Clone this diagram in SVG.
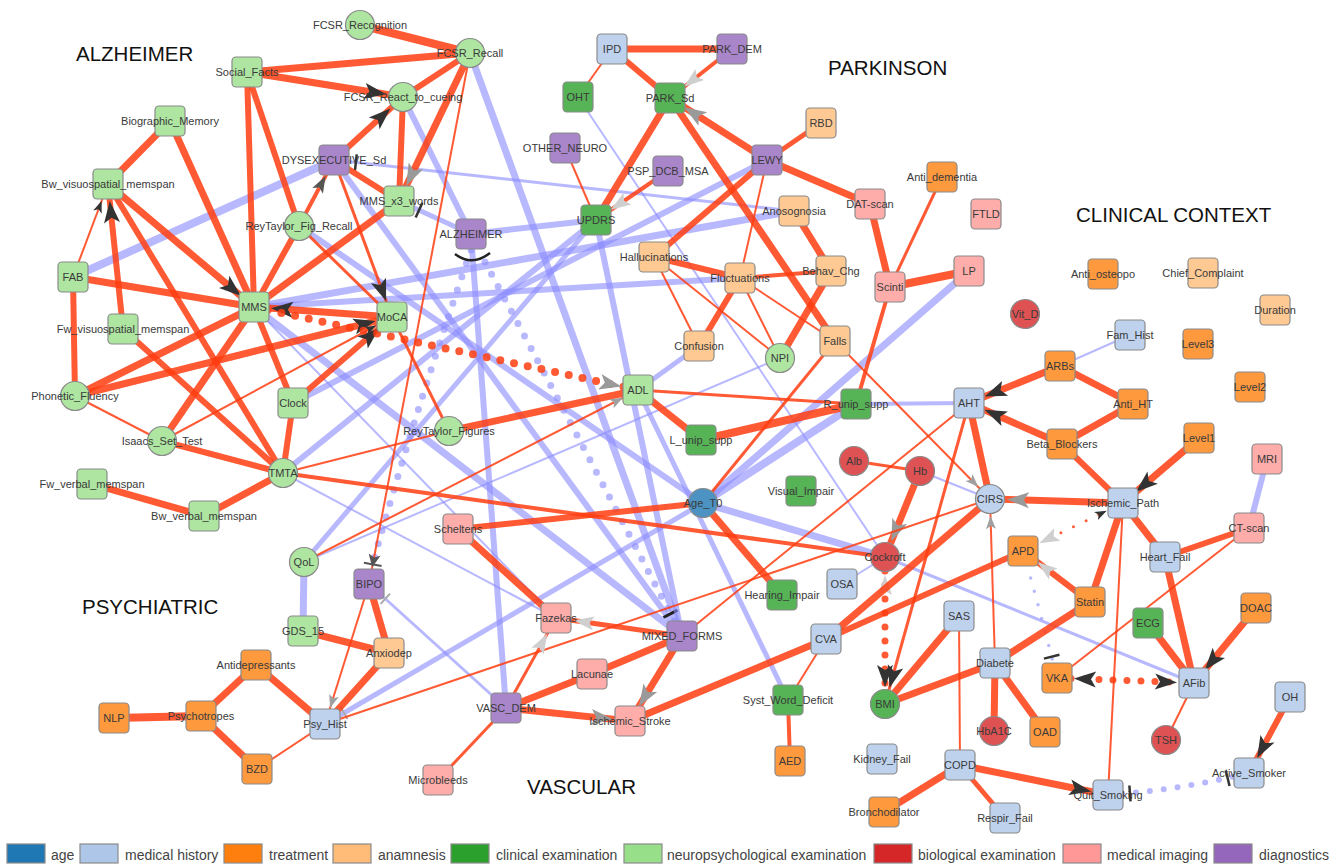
<svg xmlns="http://www.w3.org/2000/svg" width="1344" height="867" viewBox="0 0 1344 867">
<style>
.r{stroke:#ff3d10;stroke-opacity:.85;fill:none}
.b{stroke:#8c8cff;stroke-opacity:.62;fill:none}
.d{stroke-dasharray:0 14;stroke-linecap:round}
.node rect,.node circle{stroke:#8a8a8a;stroke-width:1.2}
.node text{font-family:"Liberation Sans",Arial,sans-serif;font-size:11px;fill:#3a3a3a;text-anchor:middle}
.age{fill:#4c92c3}.mh{fill:#bed2ed}.tr{fill:#ff993e}.an{fill:#ffc993}.ce{fill:#56b356}.np{fill:#ade5a1}.bi{fill:#de5253}.mi{fill:#ffadab}.dg{fill:#a985ca}
.title{font-family:"Liberation Sans",Arial,sans-serif;font-size:20.5px;fill:#111}
.leg rect{stroke:#8a8a8a;stroke-width:1.2}
.leg text{font-family:"Liberation Sans",Arial,sans-serif;font-size:14px;fill:#444}
</style>
<defs>
<marker id="dk" markerUnits="userSpaceOnUse" orient="auto-start-reverse" refX="39" refY="8" markerWidth="24" markerHeight="16" overflow="visible"><path d="M0,0L22,8L0,16L5,8Z" fill="#333"/></marker>
<marker id="gr" markerUnits="userSpaceOnUse" orient="auto-start-reverse" refX="39" refY="8" markerWidth="24" markerHeight="16" overflow="visible"><path d="M0,0L22,8L0,16L5,8Z" fill="#9a9a9a"/></marker>
<marker id="gr2" markerUnits="userSpaceOnUse" orient="auto-start-reverse" refX="35" refY="6" markerWidth="18" markerHeight="12" overflow="visible"><path d="M0,0L17,6L0,12L4,6Z" fill="#555"/></marker>
<marker id="lt" markerUnits="userSpaceOnUse" orient="auto-start-reverse" refX="38" refY="7" markerWidth="22" markerHeight="14" overflow="visible"><path d="M0,0L20,7L0,14L4,7Z" fill="#cfcfcf"/></marker>
<marker id="dksm" markerUnits="userSpaceOnUse" orient="auto-start-reverse" refX="30" refY="4.5" markerWidth="13" markerHeight="9" overflow="visible"><path d="M0,0L12,4.5L0,9L3,4.5Z" fill="#333"/></marker>
<marker id="grsm" markerUnits="userSpaceOnUse" orient="auto-start-reverse" refX="30" refY="5" markerWidth="14" markerHeight="10" overflow="visible"><path d="M0,0L13,5L0,10L3,5Z" fill="#a0a0a0"/></marker>
<marker id="ab" markerUnits="userSpaceOnUse" orient="auto-start-reverse" refX="30" refY="6" markerWidth="14" markerHeight="12" overflow="visible"><path d="M0,0L13,6L0,12L3,6Z" fill="#555"/><path d="M10,-3L10,15" stroke="#555" stroke-width="2"/></marker>
<marker id="tdk" markerUnits="userSpaceOnUse" orient="auto-start-reverse" refX="22" refY="0" markerWidth="4" markerHeight="16" overflow="visible"><path d="M0,-8L0,8" stroke="#333" stroke-width="2.5"/></marker>
<marker id="tdk2" markerUnits="userSpaceOnUse" orient="auto-start-reverse" refX="25" refY="0" markerWidth="4" markerHeight="16" overflow="visible"><path d="M0,-8L0,8" stroke="#222" stroke-width="3"/></marker>
<marker id="tgr" markerUnits="userSpaceOnUse" orient="auto-start-reverse" refX="22" refY="0" markerWidth="4" markerHeight="16" overflow="visible"><path d="M0,-7L0,7" stroke="#aaa" stroke-width="2"/></marker>
</defs>
<rect width="1344" height="867" fill="#fff"/>
<g id="edges">
<!-- blue edges -->
<path class="b" stroke-width="8" d="M73,277L334,160"/>
<path class="b" stroke-width="3" d="M334,160L794,211" marker-start="url(#tdk)"/>
<path class="b" stroke-width="6" d="M334,160L682,636"/>
<path class="b" stroke-width="7" d="M470,53L682,636"/>
<path class="b" stroke-width="6" d="M403,97L471,234"/>
<path class="b" stroke-width="5" d="M399,201L471,234" marker-start="url(#tdk)"/>
<path class="b" stroke-width="6" d="M471,234L596,220"/>
<path class="b" stroke-width="6" d="M471,234L506,708"/>
<path class="b d" stroke-width="7" d="M471,250Q415,412 372,566"/>
<path class="b d" stroke-width="7" d="M485,262Q575,430 682,636" marker-end="url(#tdk2)"/>
<path class="b" stroke-width="7" d="M254,307L794,211"/>
<path class="b" stroke-width="6" d="M254,307L740,278"/>
<path class="b" stroke-width="7" d="M254,307L682,636"/>
<path class="b" stroke-width="2" d="M254,307L556,618"/>
<path class="b" stroke-width="2" d="M283,473L556,618"/>
<path class="b" stroke-width="6" d="M767,160L293,403"/>
<path class="b" stroke-width="5" d="M596,220L304,562"/>
<path class="b" stroke-width="6" d="M299,226L703,503"/>
<path class="b" stroke-width="6" d="M283,473L596,220"/>
<path class="b" stroke-width="5" d="M325,724L703,503" marker-start="url(#tgr)"/>
<path class="b" stroke-width="3" d="M369,584L506,708" marker-start="url(#tgr)"/>
<path class="b" stroke-width="7" d="M304,562L303,631"/>
<path class="b" stroke-width="5" d="M638,390L699,346"/>
<path class="b" stroke-width="2" d="M780,358L304,562"/>
<path class="b" stroke-width="5" d="M638,390L788,700"/>
<path class="b" stroke-width="2" d="M578,97L885,557"/>
<path class="b" stroke-width="8" d="M856,404L703,503"/>
<path class="b" stroke-width="7" d="M969,271L703,503"/>
<path class="b" stroke-width="4" d="M969,403L856,404"/>
<path class="b" stroke-width="7" d="M703,503L885,557"/>
<path class="b" stroke-width="2" d="M920,471L990,499"/>
<path class="b" stroke-width="2" d="M1130,335L1060,366"/>
<path class="b" stroke-width="6" d="M1267,459L1249,528"/>
<path class="b" stroke-width="3" d="M1194,683L885,557"/>
<path class="b" stroke-width="2" d="M842,584L885,557"/>
<path class="b" stroke-width="6" d="M596,220L682,636"/>
<path class="b d" stroke-width="3.5" stroke-dasharray="0 9" d="M1023,551Q1040,610 1057,678" marker-end="url(#tdk)"/>
<path class="b d" stroke-width="6" d="M1108,795Q1180,790 1249,773" marker-start="url(#tdk)" marker-end="url(#tdk)"/>
<!-- red edges -->
<path class="r" stroke-width="8" d="M360,25L470,53"/>
<path class="r" stroke-width="7" d="M247,72L470,53"/>
<path class="r" stroke-width="7" d="M247,72L403,97" marker-end="url(#dk)"/>
<path class="r" stroke-width="6" d="M470,53L403,97"/>
<path class="r" stroke-width="7" d="M470,53L399,201" marker-end="url(#gr)"/>
<path class="r" stroke-width="6" d="M403,97L399,201"/>
<path class="r" stroke-width="2" d="M470,53L369,584" marker-end="url(#ab)"/>
<path class="r" stroke-width="6" d="M247,72L254,307"/>
<path class="r" stroke-width="6" d="M247,72L299,226"/>
<path class="r" stroke-width="7" d="M170,121L108,184"/>
<path class="r" stroke-width="7" d="M170,121L254,307"/>
<path class="r" stroke-width="6" d="M123,329L108,184" marker-end="url(#dk)"/>
<path class="r" stroke-width="2" d="M73,277L108,184" marker-end="url(#dksm)"/>
<path class="r" stroke-width="7" d="M108,184L254,307" marker-end="url(#dk)"/>
<path class="r" stroke-width="6" d="M108,184L283,473"/>
<path class="r" stroke-width="7" d="M73,277L254,307"/>
<path class="r" stroke-width="6" d="M73,277L75,396"/>
<path class="r" stroke-width="6" d="M123,329L283,473"/>
<path class="r" stroke-width="7" d="M75,396L254,307"/>
<path class="r" stroke-width="7" d="M75,396L392,317" marker-end="url(#dk)"/>
<path class="r" stroke-width="2" d="M75,396L162,441"/>
<path class="r" stroke-width="7" d="M162,441L254,307"/>
<path class="r" stroke-width="2" d="M162,441L392,317" marker-end="url(#dksm)"/>
<path class="r" stroke-width="6" d="M162,441L283,473"/>
<path class="r" stroke-width="6" d="M254,307L293,403"/>
<path class="r" stroke-width="6" d="M293,403L283,473"/>
<path class="r" stroke-width="6" d="M293,403L392,317" marker-end="url(#dk)"/>
<path class="r" stroke-width="7" d="M399,201L254,307"/>
<path class="r" stroke-width="6" d="M299,226L254,307"/>
<path class="r" stroke-width="4" d="M299,226L334,160" marker-end="url(#gr2)"/>
<path class="r" stroke-width="6" d="M334,160L403,97" marker-end="url(#dk)"/>
<path class="r" stroke-width="6" d="M334,160L399,201"/>
<path class="r" stroke-width="3" d="M334,160L392,317" marker-end="url(#dk)"/>
<path class="r" stroke-width="3" d="M299,226L392,317"/>
<path class="r" stroke-width="7" d="M392,317L254,307" marker-end="url(#dk)"/>
<path class="r d" stroke-width="8" stroke-dasharray="0 15.5" d="M254,307L638,390" marker-end="url(#gr)"/>
<path class="r" stroke-width="3" d="M392,317L449,431"/>
<path class="r" stroke-width="7" d="M449,431L638,390"/>
<path class="r" stroke-width="2" d="M283,473L449,431"/>
<path class="r" stroke-width="4" d="M283,473L885,557"/>
<path class="r" stroke-width="7" d="M204,516L283,473"/>
<path class="r" stroke-width="7" d="M92,484L204,516"/>
<path class="r" stroke-width="2" d="M304,562L638,390" marker-end="url(#grsm)"/>
<path class="r" stroke-width="3" d="M638,390L856,404"/>
<path class="r" stroke-width="7" d="M638,390L701,440"/>
<path class="r" stroke-width="8" d="M701,440L856,404"/>
<path class="r" stroke-width="6" d="M458,529L703,503"/>
<path class="r" stroke-width="7" d="M458,529L556,618"/>
<path class="r" stroke-width="7" d="M703,503L782,595"/>
<path class="r" stroke-width="3" d="M703,503L835,341"/>
<path class="r" stroke-width="4" d="M890,287L856,404"/>
<path class="r" stroke-width="8" d="M890,287L969,271"/>
<path class="r" stroke-width="3" d="M890,287L942,177"/>
<path class="r" stroke-width="7" d="M870,204L890,287"/>
<path class="r" stroke-width="7" d="M767,160L870,204"/>
<path class="r" stroke-width="5" d="M767,160L821,123"/>
<path class="r" stroke-width="7" d="M767,160L670,98" marker-end="url(#gr)"/>
<path class="r" stroke-width="6" d="M767,160L654,257"/>
<path class="r" stroke-width="2" d="M767,160L740,278"/>
<path class="r" stroke-width="7" d="M612,49L732,49"/>
<path class="r" stroke-width="2" d="M612,49L578,97"/>
<path class="r" stroke-width="6" d="M612,49L670,98"/>
<path class="r" stroke-width="4" d="M732,49L670,98" marker-end="url(#lt)"/>
<path class="r" stroke-width="7" d="M670,98L596,220"/>
<path class="r" stroke-width="7" d="M670,98L835,341"/>
<path class="r" stroke-width="2" d="M565,148L596,220"/>
<path class="r" stroke-width="4" d="M668,171L596,220" marker-end="url(#lt)"/>
<path class="r" stroke-width="7" d="M794,211L831,271"/>
<path class="r" stroke-width="6" d="M654,257L740,278"/>
<path class="r" stroke-width="4" d="M740,278L831,271"/>
<path class="r" stroke-width="2" d="M654,257L699,346"/>
<path class="r" stroke-width="2" d="M654,257L780,358"/>
<path class="r" stroke-width="2" d="M740,278L780,358"/>
<path class="r" stroke-width="2" d="M740,278L835,341"/>
<path class="r" stroke-width="6" d="M699,346L740,278"/>
<path class="r" stroke-width="7" d="M780,358L831,271"/>
<path class="r" stroke-width="2" d="M835,341L990,499" marker-end="url(#grsm)"/>
<path class="r" stroke-width="7" d="M920,471L885,557" marker-end="url(#gr)"/>
<path class="r" stroke-width="3" d="M854,461L920,471"/>
<path class="r d" stroke-width="7" stroke-dasharray="0 14" d="M885,557L885,704" marker-start="url(#lt)" marker-end="url(#dk)"/>
<path class="r" stroke-width="3" d="M969,403L885,704" marker-end="url(#dk)"/>
<path class="r" stroke-width="7" d="M969,403L990,499"/>
<path class="r" stroke-width="2" d="M969,403L682,636"/>
<path class="r" stroke-width="2" d="M325,724L990,499"/>
<path class="r" stroke-width="7" d="M990,499L826,639"/>
<path class="r" stroke-width="6" d="M1023,551L826,639"/>
<path class="r" stroke-width="7" d="M826,639L630,721"/>
<path class="r" stroke-width="2" d="M826,639L788,700"/>
<path class="r" stroke-width="4" d="M788,700L790,761"/>
<path class="r" stroke-width="2" d="M995,663L990,499" marker-end="url(#grsm)"/>
<path class="r" stroke-width="7" d="M1123,503L990,499" marker-end="url(#gr)"/>
<path class="r" stroke-width="7" d="M1062,444L969,403" marker-end="url(#dk)"/>
<path class="r" stroke-width="7" d="M1060,366L969,403" marker-end="url(#dk)"/>
<path class="r" stroke-width="7" d="M1060,366L1133,404"/>
<path class="r" stroke-width="7" d="M1133,404L1062,444"/>
<path class="r" stroke-width="6" d="M1062,444L1123,503"/>
<path class="r" stroke-width="7" d="M1199,438L1123,503" marker-end="url(#dk)"/>
<path class="r" stroke-width="7" d="M1123,503L1165,557"/>
<path class="r" stroke-width="7" d="M1123,503L1090,602"/>
<path class="r" stroke-width="2" d="M1123,503L1108,795"/>
<path class="r" stroke-width="7" d="M1165,557L1194,683"/>
<path class="r" stroke-width="6" d="M1249,528L1165,557"/>
<path class="r" stroke-width="2" d="M1249,528L1057,678"/>
<path class="r" stroke-width="7" d="M1148,623L1194,683"/>
<path class="r" stroke-width="7" d="M1256,608L1194,683" marker-end="url(#dk)"/>
<path class="r" stroke-width="2" d="M1194,683L1166,740"/>
<path class="r d" stroke-width="7" stroke-dasharray="0 15" d="M1057,678L1194,683" marker-start="url(#dk)" marker-end="url(#dk)"/>
<path class="r d" stroke-width="3" stroke-dasharray="0 7" d="M1023,551L1123,503" marker-start="url(#lt)" marker-end="url(#dksm)"/>
<path class="r" stroke-width="6" d="M1090,602L1023,551" marker-end="url(#lt)"/>
<path class="r" stroke-width="7" d="M995,663L1090,602"/>
<path class="r" stroke-width="7" d="M995,663L885,704"/>
<path class="r" stroke-width="7" d="M995,663L994,731"/>
<path class="r" stroke-width="7" d="M995,663L1045,732"/>
<path class="r" stroke-width="7" d="M959,616L885,704"/>
<path class="r" stroke-width="2" d="M959,616L960,765"/>
<path class="r" stroke-width="7" d="M960,765L1108,795" marker-end="url(#dk)"/>
<path class="r" stroke-width="7" d="M960,765L884,812"/>
<path class="r" stroke-width="5" d="M960,765L1005,818"/>
<path class="r" stroke-width="6" d="M1290,697L1249,773" marker-end="url(#dk)"/>
<path class="r" stroke-width="5" d="M682,636L556,618" marker-end="url(#lt)"/>
<path class="r" stroke-width="7" d="M682,636L592,674"/>
<path class="r" stroke-width="7" d="M592,674L506,708"/>
<path class="r" stroke-width="7" d="M682,636L630,721" marker-end="url(#gr)"/>
<path class="r" stroke-width="7" d="M506,708L630,721" marker-end="url(#gr)"/>
<path class="r" stroke-width="3" d="M506,708L556,618" marker-end="url(#lt)"/>
<path class="r" stroke-width="3" d="M506,708L438,780"/>
<path class="r" stroke-width="7" d="M369,584L389,653"/>
<path class="r" stroke-width="7" d="M303,631L389,653"/>
<path class="r" stroke-width="2" d="M369,584L325,724" marker-end="url(#grsm)"/>
<path class="r" stroke-width="7" d="M389,653L325,724"/>
<path class="r" stroke-width="2" d="M325,724L257,769"/>
<path class="r" stroke-width="7" d="M256,665L325,724"/>
<path class="r" stroke-width="7" d="M201,716L256,665"/>
<path class="r" stroke-width="7" d="M201,716L257,769"/>
<path class="r" stroke-width="8" d="M114,718L201,716"/>
<path d="M455,254Q472,267 490,253" fill="none" stroke="#222" stroke-width="2.5"/>
</g>
<g id="titles">
<text class="title" x="76" y="61">ALZHEIMER</text>
<text class="title" x="828" y="75">PARKINSON</text>
<text class="title" x="1076" y="222">CLINICAL CONTEXT</text>
<text class="title" x="82" y="614">PSYCHIATRIC</text>
<text class="title" x="527" y="794">VASCULAR</text>
</g>
<g id="nodes">
<g id="n-FCSR_Recognition" class="node"><circle class="np" cx="360" cy="25" r="14.5"/><text x="360" y="29">FCSR_Recognition</text></g>
<g id="n-FCSR_Recall" class="node"><circle class="np" cx="470" cy="53" r="14.5"/><text x="470" y="57">FCSR_Recall</text></g>
<g id="n-Social_Facts" class="node"><rect class="np" x="232" y="57" width="30" height="30" rx="4"/><text x="247" y="76">Social_Facts</text></g>
<g id="n-FCSR_React_to_cueing" class="node"><circle class="np" cx="403" cy="97" r="14.5"/><text x="403" y="101">FCSR_React_to_cueing</text></g>
<g id="n-Biographic_Memory" class="node"><rect class="np" x="155" y="106" width="30" height="30" rx="4"/><text x="170" y="125">Biographic_Memory</text></g>
<g id="n-DYSEXECUTIVE_Sd" class="node"><rect class="dg" x="319" y="145" width="30" height="30" rx="4"/><text x="334" y="164">DYSEXECUTIVE_Sd</text></g>
<g id="n-Bw_visuospatial_memspan" class="node"><rect class="np" x="93" y="169" width="30" height="30" rx="4"/><text x="108" y="188">Bw_visuospatial_memspan</text></g>
<g id="n-MMS_x3_words" class="node"><rect class="np" x="384" y="186" width="30" height="30" rx="4"/><text x="399" y="205">MMS_x3_words</text></g>
<g id="n-ReyTaylor_Fig_Recall" class="node"><circle class="np" cx="299" cy="226" r="14.5"/><text x="299" y="230">ReyTaylor_Fig_Recall</text></g>
<g id="n-ALZHEIMER" class="node"><rect class="dg" x="456" y="219" width="30" height="30" rx="4"/><text x="471" y="238">ALZHEIMER</text></g>
<g id="n-FAB" class="node"><rect class="np" x="58" y="262" width="30" height="30" rx="4"/><text x="73" y="281">FAB</text></g>
<g id="n-MMS" class="node"><rect class="np" x="239" y="292" width="30" height="30" rx="4"/><text x="254" y="311">MMS</text></g>
<g id="n-MoCA" class="node"><rect class="np" x="377" y="302" width="30" height="30" rx="4"/><text x="392" y="321">MoCA</text></g>
<g id="n-Fw_visuospatial_memspan" class="node"><rect class="np" x="108" y="314" width="30" height="30" rx="4"/><text x="123" y="333">Fw_visuospatial_memspan</text></g>
<g id="n-Phonetic_Fluency" class="node"><circle class="np" cx="75" cy="396" r="14.5"/><text x="75" y="400">Phonetic_Fluency</text></g>
<g id="n-Clock" class="node"><rect class="np" x="278" y="388" width="30" height="30" rx="4"/><text x="293" y="407">Clock</text></g>
<g id="n-Isaacs_Set_Test" class="node"><circle class="np" cx="162" cy="441" r="14.5"/><text x="162" y="445">Isaacs_Set_Test</text></g>
<g id="n-ReyTaylor_Figures" class="node"><circle class="np" cx="449" cy="431" r="14.5"/><text x="449" y="435">ReyTaylor_Figures</text></g>
<g id="n-TMTA" class="node"><circle class="np" cx="283" cy="473" r="14.5"/><text x="283" y="477">TMTA</text></g>
<g id="n-Fw_verbal_memspan" class="node"><rect class="np" x="77" y="469" width="30" height="30" rx="4"/><text x="92" y="488">Fw_verbal_memspan</text></g>
<g id="n-Bw_verbal_memspan" class="node"><rect class="np" x="189" y="501" width="30" height="30" rx="4"/><text x="204" y="520">Bw_verbal_memspan</text></g>
<g id="n-QoL" class="node"><circle class="np" cx="304" cy="562" r="14.5"/><text x="304" y="566">QoL</text></g>
<g id="n-BIPO" class="node"><rect class="dg" x="354" y="569" width="30" height="30" rx="4"/><text x="369" y="588">BIPO</text></g>
<g id="n-GDS_15" class="node"><rect class="np" x="288" y="616" width="30" height="30" rx="4"/><text x="303" y="635">GDS_15</text></g>
<g id="n-Anxiodep" class="node"><rect class="an" x="374" y="638" width="30" height="30" rx="4"/><text x="389" y="657">Anxiodep</text></g>
<g id="n-Antidepressants" class="node"><rect class="tr" x="241" y="650" width="30" height="30" rx="4"/><text x="256" y="669">Antidepressants</text></g>
<g id="n-NLP" class="node"><rect class="tr" x="99" y="703" width="30" height="30" rx="4"/><text x="114" y="722">NLP</text></g>
<g id="n-Psychotropes" class="node"><rect class="tr" x="186" y="701" width="30" height="30" rx="4"/><text x="201" y="720">Psychotropes</text></g>
<g id="n-Psy_Hist" class="node"><rect class="mh" x="310" y="709" width="30" height="30" rx="4"/><text x="325" y="728">Psy_Hist</text></g>
<g id="n-BZD" class="node"><rect class="tr" x="242" y="754" width="30" height="30" rx="4"/><text x="257" y="773">BZD</text></g>
<g id="n-Scheltens" class="node"><rect class="mi" x="443" y="514" width="30" height="30" rx="4"/><text x="458" y="533">Scheltens</text></g>
<g id="n-Fazekas" class="node"><rect class="mi" x="541" y="603" width="30" height="30" rx="4"/><text x="556" y="622">Fazekas</text></g>
<g id="n-MIXED_FORMS" class="node"><rect class="dg" x="667" y="621" width="30" height="30" rx="4"/><text x="682" y="640">MIXED_FORMS</text></g>
<g id="n-Lacunae" class="node"><rect class="mi" x="577" y="659" width="30" height="30" rx="4"/><text x="592" y="678">Lacunae</text></g>
<g id="n-VASC_DEM" class="node"><rect class="dg" x="491" y="693" width="30" height="30" rx="4"/><text x="506" y="712">VASC_DEM</text></g>
<g id="n-Ischemic_Stroke" class="node"><rect class="mi" x="615" y="706" width="30" height="30" rx="4"/><text x="630" y="725">Ischemic_Stroke</text></g>
<g id="n-Microbleeds" class="node"><rect class="mi" x="423" y="765" width="30" height="30" rx="4"/><text x="438" y="784">Microbleeds</text></g>
<g id="n-IPD" class="node"><rect class="mh" x="597" y="34" width="30" height="30" rx="4"/><text x="612" y="53">IPD</text></g>
<g id="n-PARK_DEM" class="node"><rect class="dg" x="717" y="34" width="30" height="30" rx="4"/><text x="732" y="53">PARK_DEM</text></g>
<g id="n-OHT" class="node"><rect class="ce" x="563" y="82" width="30" height="30" rx="4"/><text x="578" y="101">OHT</text></g>
<g id="n-PARK_Sd" class="node"><rect class="ce" x="655" y="83" width="30" height="30" rx="4"/><text x="670" y="102">PARK_Sd</text></g>
<g id="n-RBD" class="node"><rect class="an" x="806" y="108" width="30" height="30" rx="4"/><text x="821" y="127">RBD</text></g>
<g id="n-OTHER_NEURO" class="node"><rect class="dg" x="550" y="133" width="30" height="30" rx="4"/><text x="565" y="152">OTHER_NEURO</text></g>
<g id="n-PSP_DCB_MSA" class="node"><rect class="dg" x="653" y="156" width="30" height="30" rx="4"/><text x="668" y="175">PSP_DCB_MSA</text></g>
<g id="n-LEWY" class="node"><rect class="dg" x="752" y="145" width="30" height="30" rx="4"/><text x="767" y="164">LEWY</text></g>
<g id="n-UPDRS" class="node"><rect class="ce" x="581" y="205" width="30" height="30" rx="4"/><text x="596" y="224">UPDRS</text></g>
<g id="n-DAT-scan" class="node"><rect class="mi" x="855" y="189" width="30" height="30" rx="4"/><text x="870" y="208">DAT-scan</text></g>
<g id="n-Anosognosia" class="node"><rect class="an" x="779" y="196" width="30" height="30" rx="4"/><text x="794" y="215">Anosognosia</text></g>
<g id="n-Hallucinations" class="node"><rect class="an" x="639" y="242" width="30" height="30" rx="4"/><text x="654" y="261">Hallucinations</text></g>
<g id="n-Fluctuations" class="node"><rect class="an" x="725" y="263" width="30" height="30" rx="4"/><text x="740" y="282">Fluctuations</text></g>
<g id="n-Behav_Chg" class="node"><rect class="an" x="816" y="256" width="30" height="30" rx="4"/><text x="831" y="275">Behav_Chg</text></g>
<g id="n-Scinti" class="node"><rect class="mi" x="875" y="272" width="30" height="30" rx="4"/><text x="890" y="291">Scinti</text></g>
<g id="n-Anti_dementia" class="node"><rect class="tr" x="927" y="162" width="30" height="30" rx="4"/><text x="942" y="181">Anti_dementia</text></g>
<g id="n-FTLD" class="node"><rect class="mi" x="971" y="199" width="30" height="30" rx="4"/><text x="986" y="218">FTLD</text></g>
<g id="n-LP" class="node"><rect class="mi" x="954" y="256" width="30" height="30" rx="4"/><text x="969" y="275">LP</text></g>
<g id="n-Confusion" class="node"><rect class="an" x="684" y="331" width="30" height="30" rx="4"/><text x="699" y="350">Confusion</text></g>
<g id="n-NPI" class="node"><circle class="np" cx="780" cy="358" r="14.5"/><text x="780" y="362">NPI</text></g>
<g id="n-Falls" class="node"><rect class="an" x="820" y="326" width="30" height="30" rx="4"/><text x="835" y="345">Falls</text></g>
<g id="n-ADL" class="node"><rect class="np" x="623" y="375" width="30" height="30" rx="4"/><text x="638" y="394">ADL</text></g>
<g id="n-R_unip_supp" class="node"><rect class="ce" x="841" y="389" width="30" height="30" rx="4"/><text x="856" y="408">R_unip_supp</text></g>
<g id="n-L_unip_supp" class="node"><rect class="ce" x="686" y="425" width="30" height="30" rx="4"/><text x="701" y="444">L_unip_supp</text></g>
<g id="n-Alb" class="node"><circle class="bi" cx="854" cy="461" r="14.5"/><text x="854" y="465">Alb</text></g>
<g id="n-Hb" class="node"><circle class="bi" cx="920" cy="471" r="14.5"/><text x="920" y="475">Hb</text></g>
<g id="n-Visual_Impair" class="node"><rect class="ce" x="786" y="476" width="30" height="30" rx="4"/><text x="801" y="495">Visual_Impair</text></g>
<g id="n-Age_T0" class="node"><circle class="age" cx="703" cy="503" r="14.5"/><text x="703" y="507">Age_T0</text></g>
<g id="n-Cockroft" class="node"><circle class="bi" cx="885" cy="557" r="14.5"/><text x="885" y="561">Cockroft</text></g>
<g id="n-OSA" class="node"><rect class="mh" x="827" y="569" width="30" height="30" rx="4"/><text x="842" y="588">OSA</text></g>
<g id="n-Hearing_Impair" class="node"><rect class="ce" x="767" y="580" width="30" height="30" rx="4"/><text x="782" y="599">Hearing_Impair</text></g>
<g id="n-CVA" class="node"><rect class="mh" x="811" y="624" width="30" height="30" rx="4"/><text x="826" y="643">CVA</text></g>
<g id="n-Syst_Word_Deficit" class="node"><rect class="ce" x="773" y="685" width="30" height="30" rx="4"/><text x="788" y="704">Syst_Word_Deficit</text></g>
<g id="n-AED" class="node"><rect class="tr" x="775" y="746" width="30" height="30" rx="4"/><text x="790" y="765">AED</text></g>
<g id="n-BMI" class="node"><circle class="ce" cx="885" cy="704" r="14.5"/><text x="885" y="708">BMI</text></g>
<g id="n-Kidney_Fail" class="node"><rect class="mh" x="867" y="744" width="30" height="30" rx="4"/><text x="882" y="763">Kidney_Fail</text></g>
<g id="n-Bronchodilator" class="node"><rect class="tr" x="869" y="797" width="30" height="30" rx="4"/><text x="884" y="816">Bronchodilator</text></g>
<g id="n-SAS" class="node"><rect class="mh" x="944" y="601" width="30" height="30" rx="4"/><text x="959" y="620">SAS</text></g>
<g id="n-COPD" class="node"><rect class="mh" x="945" y="750" width="30" height="30" rx="4"/><text x="960" y="769">COPD</text></g>
<g id="n-Respir_Fail" class="node"><rect class="mh" x="990" y="803" width="30" height="30" rx="4"/><text x="1005" y="822">Respir_Fail</text></g>
<g id="n-Diabete" class="node"><rect class="mh" x="980" y="648" width="30" height="30" rx="4"/><text x="995" y="667">Diabete</text></g>
<g id="n-HbA1C" class="node"><circle class="bi" cx="994" cy="731" r="14.5"/><text x="994" y="735">HbA1C</text></g>
<g id="n-OAD" class="node"><rect class="tr" x="1030" y="717" width="30" height="30" rx="4"/><text x="1045" y="736">OAD</text></g>
<g id="n-VKA" class="node"><rect class="tr" x="1042" y="663" width="30" height="30" rx="4"/><text x="1057" y="682">VKA</text></g>
<g id="n-Statin" class="node"><rect class="tr" x="1075" y="587" width="30" height="30" rx="4"/><text x="1090" y="606">Statin</text></g>
<g id="n-APD" class="node"><rect class="tr" x="1008" y="536" width="30" height="30" rx="4"/><text x="1023" y="555">APD</text></g>
<g id="n-AHT" class="node"><rect class="mh" x="954" y="388" width="30" height="30" rx="4"/><text x="969" y="407">AHT</text></g>
<g id="n-CIRS" class="node"><circle class="mh" cx="990" cy="499" r="14.5"/><text x="990" y="503">CIRS</text></g>
<g id="n-Vit_D" class="node"><circle class="bi" cx="1025" cy="314" r="14.5"/><text x="1025" y="318">Vit_D</text></g>
<g id="n-Fam_Hist" class="node"><rect class="mh" x="1115" y="320" width="30" height="30" rx="4"/><text x="1130" y="339">Fam_Hist</text></g>
<g id="n-ARBs" class="node"><rect class="tr" x="1045" y="351" width="30" height="30" rx="4"/><text x="1060" y="370">ARBs</text></g>
<g id="n-Anti_HT" class="node"><rect class="tr" x="1118" y="389" width="30" height="30" rx="4"/><text x="1133" y="408">Anti_HT</text></g>
<g id="n-Beta_Blockers" class="node"><rect class="tr" x="1047" y="429" width="30" height="30" rx="4"/><text x="1062" y="448">Beta_Blockers</text></g>
<g id="n-Ischemic_Path" class="node"><rect class="mh" x="1108" y="488" width="30" height="30" rx="4"/><text x="1123" y="507">Ischemic_Path</text></g>
<g id="n-Level1" class="node"><rect class="tr" x="1184" y="423" width="30" height="30" rx="4"/><text x="1199" y="442">Level1</text></g>
<g id="n-Level2" class="node"><rect class="tr" x="1235" y="372" width="30" height="30" rx="4"/><text x="1250" y="391">Level2</text></g>
<g id="n-Level3" class="node"><rect class="tr" x="1183" y="329" width="30" height="30" rx="4"/><text x="1198" y="348">Level3</text></g>
<g id="n-Duration" class="node"><rect class="an" x="1260" y="295" width="30" height="30" rx="4"/><text x="1275" y="314">Duration</text></g>
<g id="n-Anti_osteopo" class="node"><rect class="tr" x="1088" y="259" width="30" height="30" rx="4"/><text x="1103" y="278">Anti_osteopo</text></g>
<g id="n-Chief_Complaint" class="node"><rect class="an" x="1188" y="258" width="30" height="30" rx="4"/><text x="1203" y="277">Chief_Complaint</text></g>
<g id="n-MRI" class="node"><rect class="mi" x="1252" y="444" width="30" height="30" rx="4"/><text x="1267" y="463">MRI</text></g>
<g id="n-CT-scan" class="node"><rect class="mi" x="1234" y="513" width="30" height="30" rx="4"/><text x="1249" y="532">CT-scan</text></g>
<g id="n-Heart_Fail" class="node"><rect class="mh" x="1150" y="542" width="30" height="30" rx="4"/><text x="1165" y="561">Heart_Fail</text></g>
<g id="n-ECG" class="node"><rect class="ce" x="1133" y="608" width="30" height="30" rx="4"/><text x="1148" y="627">ECG</text></g>
<g id="n-DOAC" class="node"><rect class="tr" x="1241" y="593" width="30" height="30" rx="4"/><text x="1256" y="612">DOAC</text></g>
<g id="n-AFib" class="node"><rect class="mh" x="1179" y="668" width="30" height="30" rx="4"/><text x="1194" y="687">AFib</text></g>
<g id="n-TSH" class="node"><circle class="bi" cx="1166" cy="740" r="14.5"/><text x="1166" y="744">TSH</text></g>
<g id="n-OH" class="node"><rect class="mh" x="1275" y="682" width="30" height="30" rx="4"/><text x="1290" y="701">OH</text></g>
<g id="n-Active_Smoker" class="node"><rect class="mh" x="1234" y="758" width="30" height="30" rx="4"/><text x="1249" y="777">Active_Smoker</text></g>
<g id="n-Quit_Smoking" class="node"><rect class="mh" x="1093" y="780" width="30" height="30" rx="4"/><text x="1108" y="799">Quit_Smoking</text></g>
</g>
<g id="legend" class="leg">
<rect x="7" y="844" width="38" height="19" fill="#1f77b4"/><text x="51" y="860">age</text>
<rect x="80" y="844" width="38" height="19" fill="#aec7e8"/><text x="125" y="860">medical history</text>
<rect x="224" y="844" width="38" height="19" fill="#ff7f0e"/><text x="269" y="860">treatment</text>
<rect x="333" y="844" width="38" height="19" fill="#ffbb78"/><text x="378" y="860">anamnesis</text>
<rect x="451" y="844" width="38" height="19" fill="#2ca02c"/><text x="496" y="860">clinical examination</text>
<rect x="624" y="844" width="38" height="19" fill="#98df8a"/><text x="667" y="860">neuropsychological examination</text>
<rect x="874" y="844" width="38" height="19" fill="#d62728"/><text x="918" y="860">biological examination</text>
<rect x="1063" y="844" width="38" height="19" fill="#ff9896"/><text x="1107" y="860">medical imaging</text>
<rect x="1214" y="844" width="38" height="19" fill="#9467bd"/><text x="1259" y="860">diagnostics</text>
</g>
</svg>
